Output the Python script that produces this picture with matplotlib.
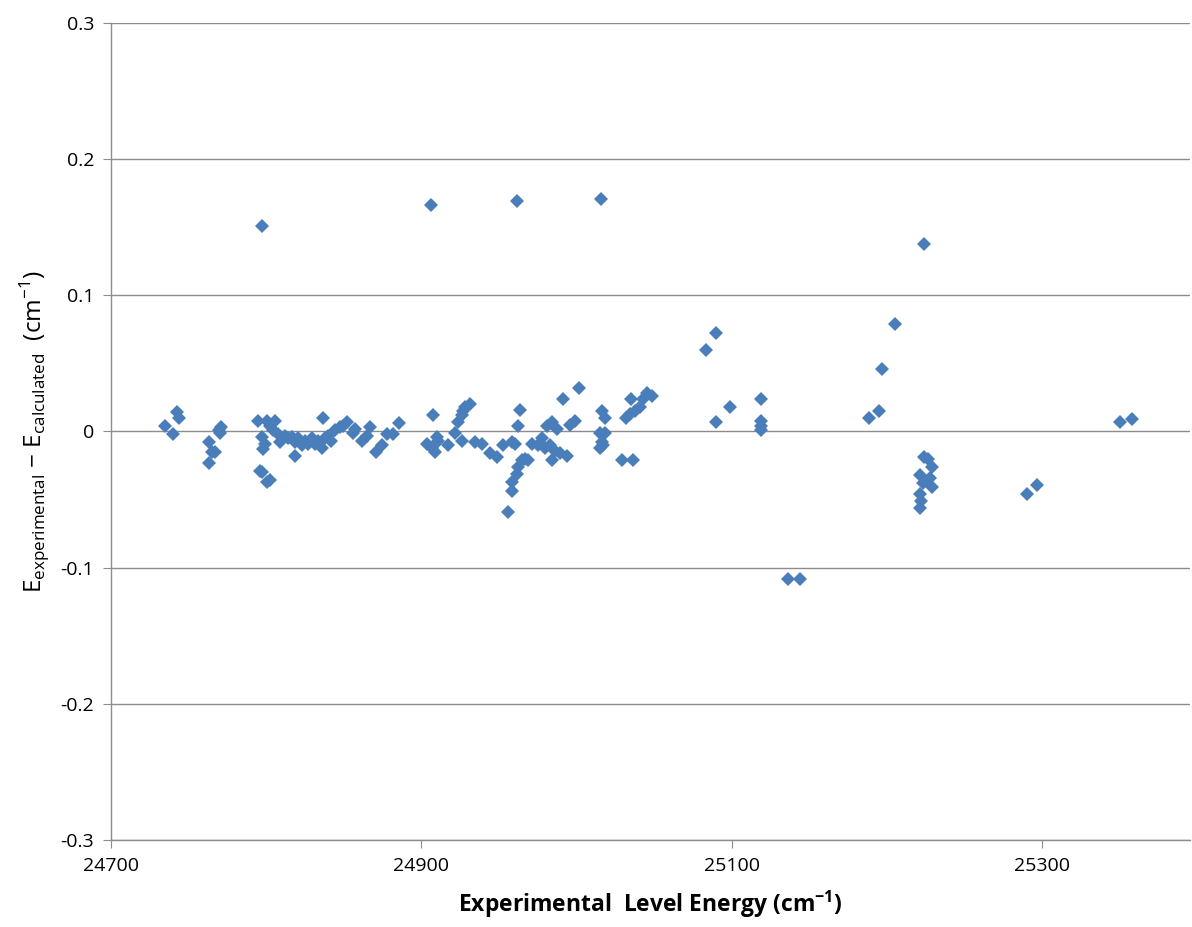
import matplotlib
matplotlib.use("Agg")
import matplotlib.pyplot as plt
import numpy as np

# experimental level energy (cm^-1)
energy = [
    24735, 24740, 24742.5, 24744, 24763, 24763, 24765, 24767, 24769.5, 24771, 24770,
    24794.7, 24797, 24796, 24797, 24800.5, 24802.4, 24798, 24797, 24800.5, 24802.4,
    24804.3, 24805.6, 24799, 24809, 24807.6, 24812, 24814, 24816.6, 24818.5, 24818.5,
    24820.4, 24823, 24825, 24827, 24829.5, 24831.4, 24833.3, 24836, 24836.5, 24838,
    24840, 24842, 24844, 24847.5, 24849.4, 24852, 24856, 24857, 24862, 24865, 24867,
    24871, 24874.5, 24877.8, 24881.6, 24885.5,
    24906, 24907.4, 24903.5, 24906.8, 24908.7, 24910, 24910.6, 24917, 24921.6, 24926,
    24923.5, 24926, 24928, 24931, 24926.7, 24934.5, 24939, 24944, 24948.6, 24952.5,
    24958, 24960, 24961.5, 24963.4, 24962, 24955.7, 24958, 24958, 24961.5, 24962,
    24964.7, 24966.7, 24968.6, 24971, 24975, 24977.6, 24979.5, 24982.8, 24984, 24986,
    24989, 24993.7, 24980.8, 24984, 24987, 24991, 24995.6, 24999, 25001.4,
    25015.6, 25016, 25018, 25015, 25018, 25015, 25017, 25016, 25029, 25036, 25035,
    25032, 25034, 25037.5, 25040.7, 25042.7, 25045, 25048.5,
    25083, 25089.7, 25090, 25098.7, 25118.7, 25118.7, 25119, 25119, 25136, 25143.8,
    25188, 25194.7, 25196.5, 25205, 25223.6, 25224, 25226, 25229, 25221, 25227.5,
    25223, 25229, 25221, 25222, 25221, 25290, 25296.4, 25350, 25357.6,
]

# E_experimental - E_calculated (cm^-1)
residual = [
    0.004, -0.002, 0.014, 0.010, -0.008, -0.023, -0.015, -0.015, 0.001, 0.003, -0.001,
    0.008, 0.151, -0.029, -0.030, -0.037, -0.036, -0.013, -0.004, 0.008, 0.004,
    0.001, 0.008, -0.009, -0.008, -0.0015, -0.003, -0.005, -0.004, -0.018, -0.008,
    -0.005, -0.010, -0.007, -0.009, -0.005, -0.009, -0.007, -0.012, 0.010, -0.005,
    -0.003, -0.007, 0.001, 0.003, 0.004, 0.007, -0.001, 0.002, -0.007, -0.003, 0.003,
    -0.015, -0.010, -0.0015, -0.0015, 0.006,
    0.166, 0.012, -0.009, -0.012, -0.015, -0.004, -0.007, -0.010, -0.001, -0.007,
    0.007, 0.012, 0.018, 0.020, 0.015, -0.008, -0.009, -0.016, -0.019, -0.010,
    -0.008, -0.009, 0.169, 0.016, 0.004, -0.059, -0.044, -0.037, -0.031, -0.026,
    -0.021, -0.020, -0.021, -0.009, -0.010, -0.005, -0.012, -0.010, -0.021, -0.014,
    -0.016, -0.018, 0.004, 0.007, 0.0015, 0.024, 0.005, 0.008, 0.032,
    0.171, 0.015, 0.010, -0.001, -0.001, -0.012, -0.010, -0.008, -0.021, -0.021, 0.024,
    0.010, 0.013, 0.015, 0.018, 0.024, 0.028, 0.026,
    0.060, 0.072, 0.007, 0.018, 0.024, 0.008, 0.004, 0.001, -0.108, -0.108,
    0.010, 0.015, 0.046, 0.079, 0.138, -0.019, -0.020, -0.026, -0.032, -0.034,
    -0.038, -0.041, -0.046, -0.051, -0.056, -0.046, -0.039, 0.007, 0.0095,
]

x_ticks = [24700, 24900, 25100, 25300]
y_ticks = [-0.3, -0.2, -0.1, 0, 0.1, 0.2, 0.3]
y_ticklabels = ["-0.3", "-0.2", "-0.1", "0", "0.1", "0.2", "0.3"]

plt.rcParams["font.family"] = ["Open Sans", "DejaVu Sans"]
plt.rcParams["mathtext.fontset"] = "custom"
plt.rcParams["mathtext.rm"] = "Open Sans"
plt.rcParams["mathtext.bf"] = "Open Sans:bold"

fig = plt.figure(figsize=(11.92, 9.27), dpi=100)
ax = fig.add_axes([0.0931, 0.0939, 0.9052, 0.8813])

grid_color = "#8c8c8c"
# the right end of the original axis is cut off by the image edge
ax.set_xlim(24700, 25395)
ax.set_ylim(-0.3, 0.3)
ax.set_yticks(y_ticks)
ax.set_yticklabels(y_ticklabels)
ax.set_xticks(x_ticks)
ax.grid(axis="y", color=grid_color, linewidth=1)
ax.set_axisbelow(True)

ax.plot(energy, residual, linestyle="none", marker="D", ms=7.5,
        color="#4a7ebb", markeredgewidth=0, zorder=3)

for side in ("top", "right"):
    ax.spines[side].set_visible(False)
for side in ("left", "bottom"):
    ax.spines[side].set_color(grid_color)
    ax.spines[side].set_linewidth(1)
ax.tick_params(axis="both", direction="out", length=6, color=grid_color,
               labelsize=14, labelcolor="black", pad=6)

ax.set_xlabel(r"Experimental  Level Energy (cm$^{\mathbf{-1}}$)",
              fontsize=16.5, fontweight="bold", labelpad=10)
ax.set_ylabel(r"E$_{\mathrm{experimental}}$ $-$ E$_{\mathrm{calculated}}$  (cm$^{-1}$)",
              fontsize=17.5, labelpad=6)

fig.savefig("out.png", dpi=100)
